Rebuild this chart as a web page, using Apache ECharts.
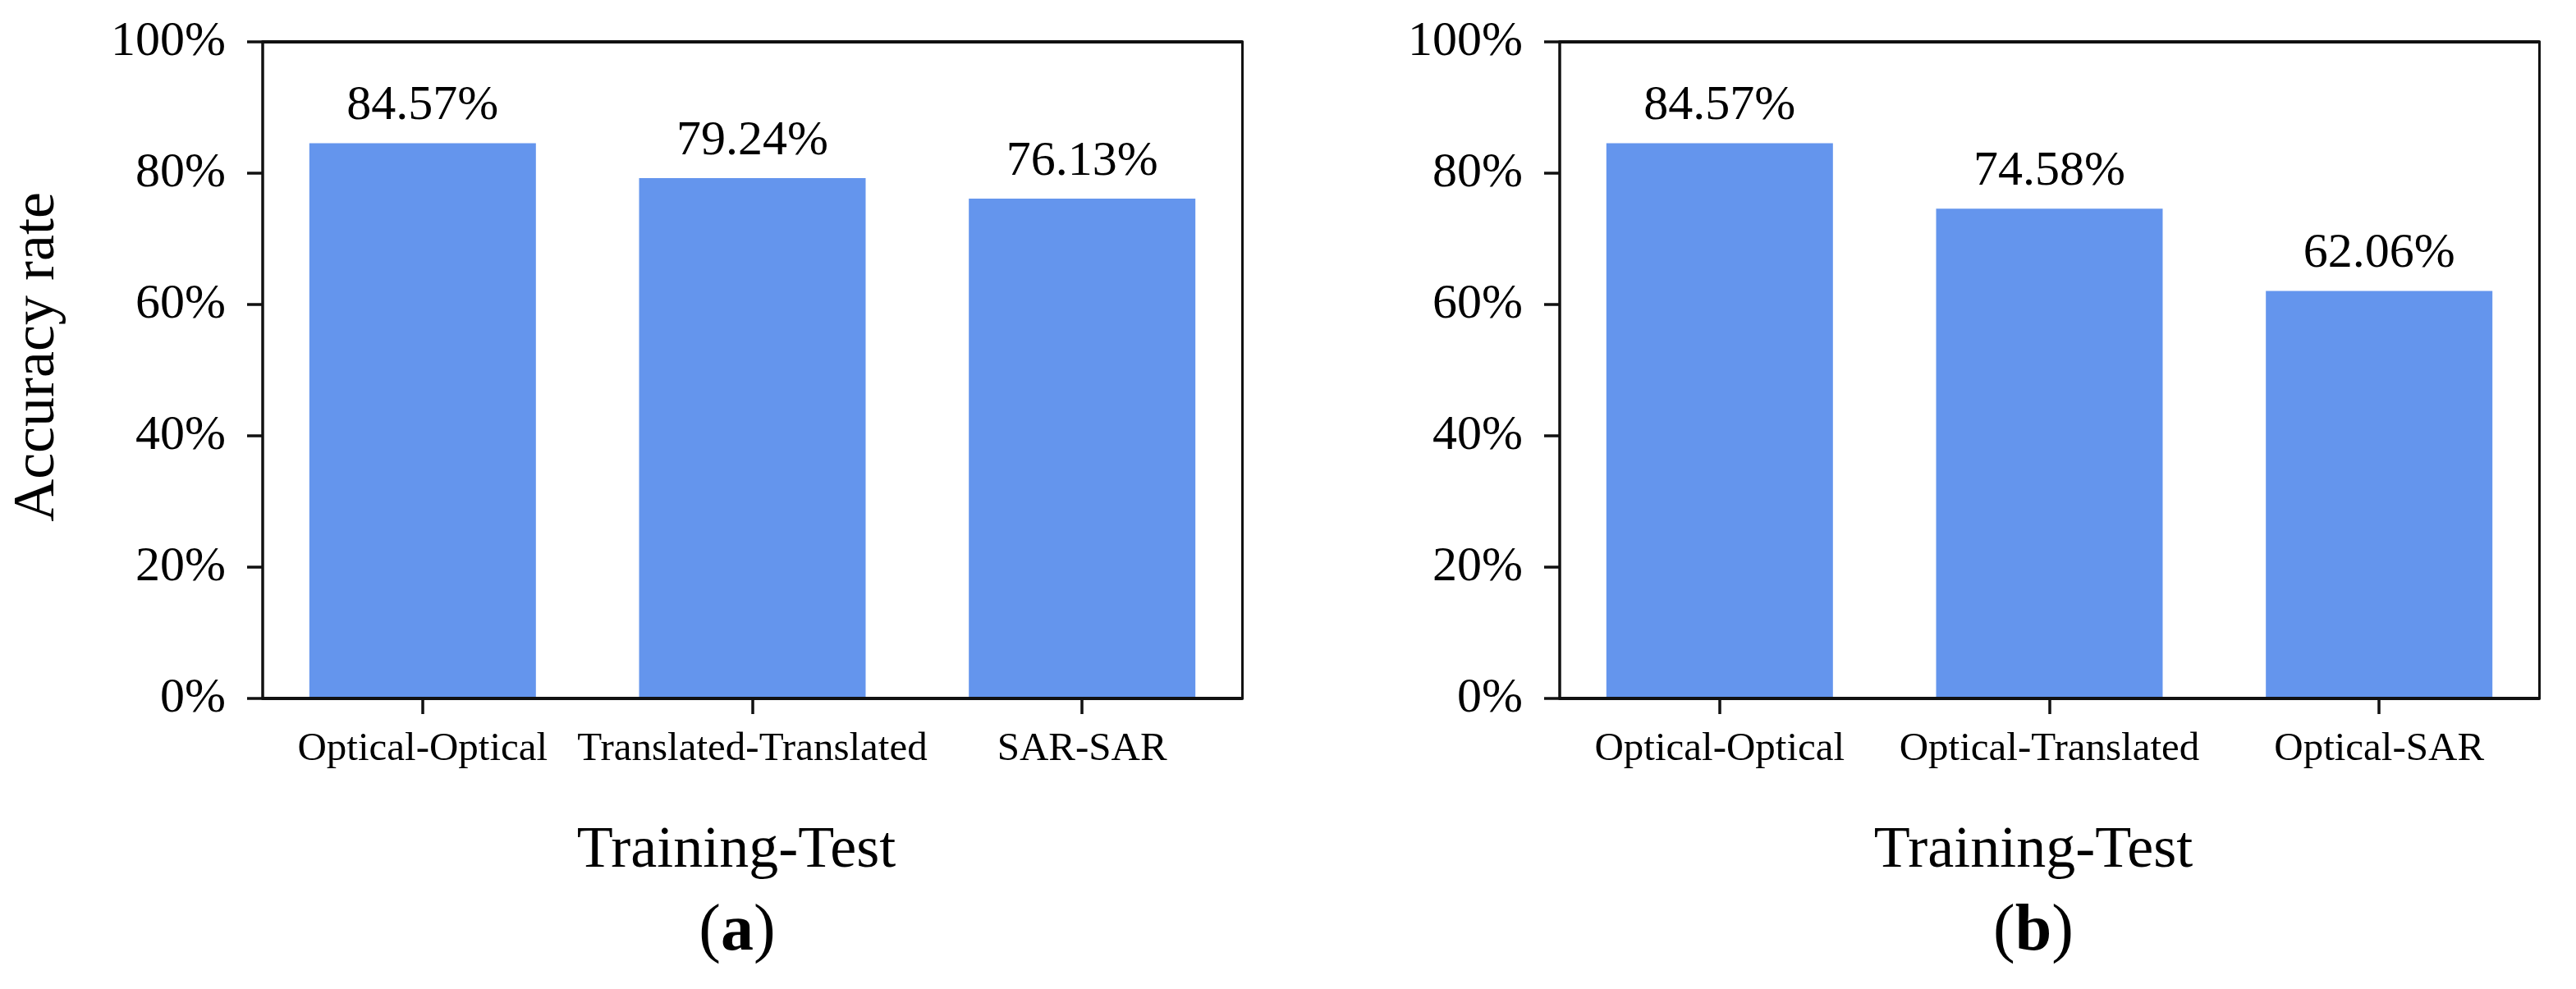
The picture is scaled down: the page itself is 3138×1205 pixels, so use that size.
<!DOCTYPE html>
<html>
<head>
<meta charset="utf-8">
<script src="https://cdn.jsdelivr.net/npm/echarts@6/dist/echarts.min.js"></script>
<style>
html,body{margin:0;padding:0;background:#fff;}
#chart{width:3138px;height:1205px;}
</style>
</head>
<body>
<div id="chart"></div>
<script>
const categoriesA = ['Optical-Optical', 'Translated-Translated', 'SAR-SAR'];
const valuesA = [84.57, 79.24, 76.13];
const categoriesB = ['Optical-Optical', 'Optical-Translated', 'Optical-SAR'];
const valuesB = [84.57, 74.58, 62.06];
const yMin = 0, yMax = 100, yStep = 20;
const yAxisTitle = 'Accuracy rate';
const xAxisTitle = 'Training-Test';
const panelTags = ['a', 'b'];

const FONT = "'Liberation Serif', 'Times New Roman', serif";
const chart = echarts.init(document.getElementById('chart'), null, {renderer: 'canvas'});

const grids = [
  {left: 320, top: 51, width: 1193, height: 800},
  {left: 1900, top: 51, width: 1193, height: 800}
];
const cats = [categoriesA, categoriesB];
const vals = [valuesA, valuesB];

const xAxes = [], yAxes = [], series = [];
grids.forEach((g, i) => {
  const idx = cats[i].map((_, k) => k);
  xAxes.push({
    gridIndex: i, type: 'value', position: 'bottom', min: -0.485, max: 2.485, z: 10,
    axisLine: {show: true, onZero: false, lineStyle: {color: '#111', width: 4}},
    axisTick: {show: true, customValues: idx, length: 19, lineStyle: {color: '#111', width: 3.5}},
    axisLabel: {show: true, customValues: idx, margin: 38, color: '#000', fontFamily: FONT, fontSize: 49,
      formatter: v => cats[i][Math.round(v)]},
    splitLine: {show: false}
  });
  xAxes.push({
    gridIndex: i, type: 'value', position: 'top', min: -0.485, max: 2.485, z: 10,
    axisLine: {show: true, onZero: false, lineStyle: {color: '#111', width: 4}},
    axisTick: {show: false}, axisLabel: {show: false}, splitLine: {show: false}
  });
  yAxes.push({
    gridIndex: i, type: 'value', position: 'left', min: yMin, max: yMax, interval: yStep, z: 10,
    axisLine: {show: true, onZero: false, lineStyle: {color: '#111', width: 3.5}},
    axisTick: {show: true, length: 19, lineStyle: {color: '#111', width: 3.5}},
    axisLabel: {show: true, margin: 45, color: '#000', fontFamily: FONT, fontSize: 60, formatter: '{value}%'},
    splitLine: {show: false}
  });
  yAxes.push({
    gridIndex: i, type: 'value', position: 'right', min: yMin, max: yMax, z: 10,
    axisLine: {show: true, onZero: false, lineStyle: {color: '#111', width: 3}},
    axisTick: {show: false}, axisLabel: {show: false}, splitLine: {show: false}
  });
  series.push({
    type: 'bar', xAxisIndex: i * 2, yAxisIndex: i * 2, barWidth: 276,
    data: vals[i].map((v, k) => [k, v]),
    itemStyle: {color: '#6495ED'},
    label: {show: true, position: 'top', distance: 15, color: '#000', fontFamily: FONT, fontSize: 60,
      formatter: p => p.value[1].toFixed(2) + '%'}
  });
});

const graphic = [
  {type: 'text', x: 46, y: 435, rotation: Math.PI / 2,
    style: {text: yAxisTitle, font: '72px ' + FONT, fill: '#000', align: 'center', verticalAlign: 'middle'}},
  {type: 'text', x: 897, y: 1037,
    style: {text: xAxisTitle, font: '72px ' + FONT, fill: '#000', align: 'center', verticalAlign: 'middle'}},
  {type: 'text', x: 2477, y: 1037,
    style: {text: xAxisTitle, font: '72px ' + FONT, fill: '#000', align: 'center', verticalAlign: 'middle'}},
  {type: 'text', x: 898, y: 1136,
    style: {text: '({b|' + panelTags[0] + '})', font: '80px ' + FONT, fill: '#000', align: 'center', verticalAlign: 'middle',
      rich: {b: {fontWeight: 'bold', fontSize: 80, fontFamily: FONT}}}},
  {type: 'text', x: 2477, y: 1136,
    style: {text: '({b|' + panelTags[1] + '})', font: '80px ' + FONT, fill: '#000', align: 'center', verticalAlign: 'middle',
      rich: {b: {fontWeight: 'bold', fontSize: 80, fontFamily: FONT}}}}
];

chart.setOption({
  backgroundColor: '#fff',
  animation: false,
  grid: grids,
  xAxis: xAxes,
  yAxis: yAxes,
  series: series,
  graphic: graphic
});
</script>
</body>
</html>
